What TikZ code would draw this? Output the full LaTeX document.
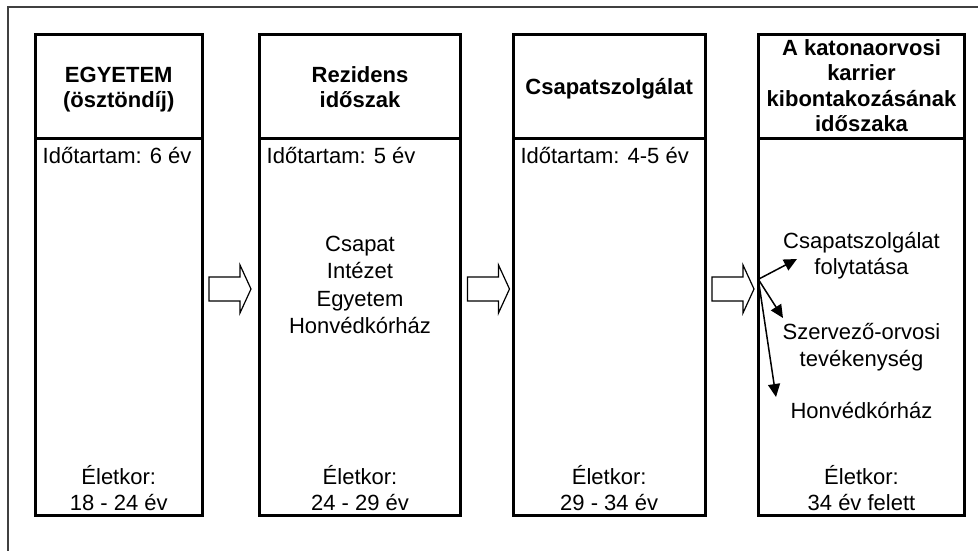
\documentclass[tikz,border=0pt]{standalone}
\usepackage{fontspec}
\setmainfont{Liberation Sans}
\usetikzlibrary{arrows.meta}
\tikzset{
  colbox/.style={draw=black, line width=3pt, rectangle, inner sep=0pt, outer sep=0pt},
  hdr/.style={font=\fontsize{22}{26}\selectfont\bfseries, anchor=base, inner sep=0pt},
  txt/.style={font=\fontsize{22}{26}\selectfont, anchor=base, inner sep=0pt},
  txtw/.style={font=\fontsize{22}{26}\selectfont, anchor=base west, inner sep=0pt},
  bigarr/.style={draw=black, line width=1.2pt, fill=white, line join=miter},
  smallarr/.style={draw=black, line width=1.5pt, -{Triangle[length=13pt,width=12pt]}},
  frame/.style={draw=black!75, line width=2pt}
}
\begin{document}
\begin{tikzpicture}[x=1pt,y=-1pt]
\useasboundingbox (0,0) rectangle (978,550);
\clip (0,0) rectangle (978,550);
% outer frame (only top and left visible)
\draw[frame] (8,560) -- (8,7) -- (990,7);

% column boxes
\node[colbox, minimum width=166.5pt, minimum height=104pt] (h1) at (118.75,86) {};
\node[colbox, minimum width=166.5pt, minimum height=377.5pt] (b1) at (118.75,326.75) {};
\node[colbox, minimum width=201pt, minimum height=104pt] (h2) at (360,86) {};
\node[colbox, minimum width=201pt, minimum height=377.5pt] (b2) at (360,326.75) {};
\node[colbox, minimum width=191.7pt, minimum height=104pt] (h3) at (609.15,86) {};
\node[colbox, minimum width=191.7pt, minimum height=377.5pt] (b3) at (609.15,326.75) {};
\node[colbox, minimum width=206.4pt, minimum height=104pt] (h4) at (861.5,86) {};
\node[colbox, minimum width=206.4pt, minimum height=377.5pt] (b4) at (861.5,326.75) {};

% header texts
\node[hdr] (h1a) at (118.75,82) {EGYETEM};
\node[hdr] (h1b) at (118.75,107) {(ösztöndíj)};
\node[hdr] (h2a) at (360,82) {Rezidens};
\node[hdr] (h2b) at (360,107) {időszak};
\node[hdr] (h3a) at (609.15,94.5) {Csapatszolgálat};
\node[hdr] (h4a) at (861.5,55) {A katonaorvosi};
\node[hdr] (h4b) at (861.5,80.5) {karrier};
\node[hdr] (h4c) at (861.5,106) {kibontakozásának};
\node[hdr] (h4d) at (861.5,131) {időszaka};

% duration
\node[txtw] (d1) at (42.5,163) {Időtartam: 6 év};
\node[txtw] (d2) at (266.5,163) {Időtartam: 5 év};
\node[txtw] (d3) at (520.3,163) {Időtartam: 4-5 év};

% column 2 middle
\node[txt] (m1) at (360,251) {Csapat};
\node[txt] (m2) at (360,278.5) {Intézet};
\node[txt] (m3) at (360,306) {Egyetem};
\node[txt] (m4) at (360,333.5) {Honvédkórház};

% column 4 middle
\node[txt] (o1) at (861.5,248) {Csapatszolgálat};
\node[txt] (o2) at (861.5,274.5) {folytatása};
\node[txt] (o3) at (861.5,339.5) {Szervező-orvosi};
\node[txt] (o4) at (861.5,366) {tevékenység};
\node[txt] (o5) at (861.5,418.5) {Honvédkórház};

% age
\node[txt] (e1) at (118.75,484.5) {Életkor:};
\node[txt] (f1) at (118.75,510) {18 - 24 év};
\node[txt] (e2) at (360,484.5) {Életkor:};
\node[txt] (f2) at (360,510) {24 - 29 év};
\node[txt] (e3) at (609.15,484.5) {Életkor:};
\node[txt] (f3) at (609.15,510) {29 - 34 év};
\node[txt] (e4) at (861.5,484.5) {Életkor:};
\node[txt] (f4) at (861.5,510) {34 év felett};

% big hollow arrows between columns
\coordinate (t1) at (209,289);
\coordinate (t2) at (467.5,289);
\coordinate (t3) at (712,289);
\foreach \c in {t1,t2,t3}
  \draw[bigarr] (\c) -- ++(0,-12) -- ++(31,0) -- ++(0,-12) -- ++(11,24)
     -- ++(-11,24) -- ++(0,-12) -- ++(-31,0) -- cycle;

% branching arrows in column 4
\coordinate (src) at (758.3,279.3);
\coordinate (k1) at (797,259);
\coordinate (k2) at (783,318);
\coordinate (k3) at (776,397);
\draw[smallarr] (src) -- (k1);
\draw[smallarr] (src) -- (k2);
\draw[smallarr] (src) -- (k3);
\end{tikzpicture}
\end{document}
